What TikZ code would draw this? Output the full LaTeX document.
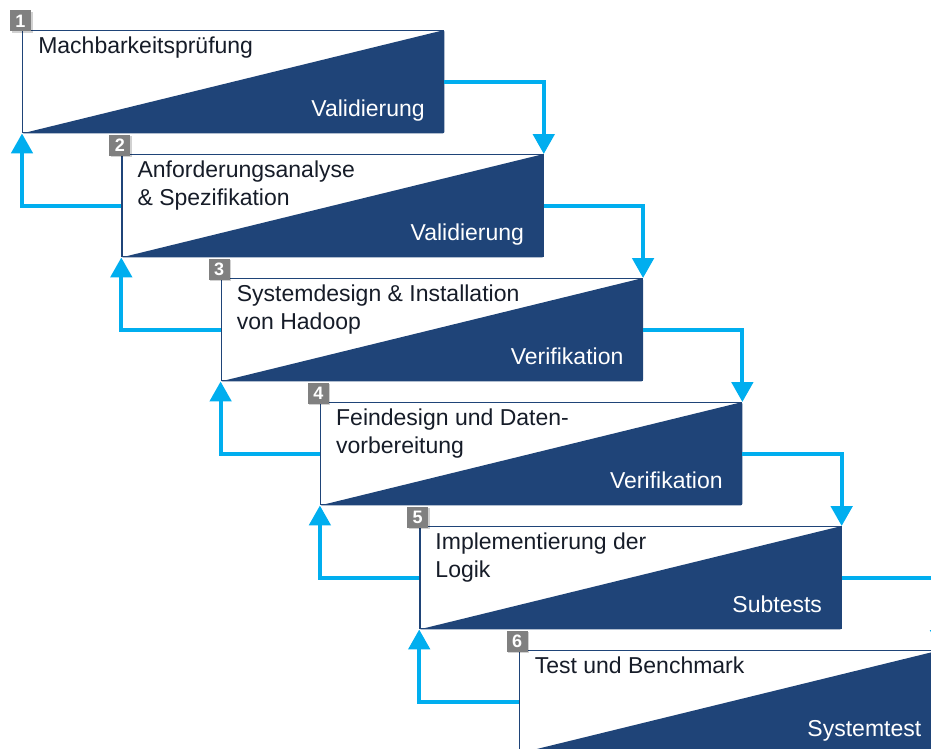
\documentclass[tikz,border=0pt]{standalone}
\usepackage{fontspec}
\setmainfont{Liberation Sans}
\usetikzlibrary{arrows.meta}
\definecolor{navy}{RGB}{31,68,120}
\definecolor{flow}{RGB}{0,174,239}
\definecolor{badgegray}{RGB}{128,128,128}
\definecolor{titletext}{RGB}{22,28,40}
\tikzset{
  phase/.style={draw=navy, line width=1.1pt, fill=white, minimum width=315.75pt, minimum height=76.5pt,
    inner sep=0pt, anchor=north west},
  wedge/.style={fill=navy, rounded corners=1.5pt},
  title/.style={anchor=north west, inner sep=0pt, align=left, text=titletext,
    font=\fontsize{17.25pt}{21pt}\selectfont},
  check/.style={anchor=base east, inner sep=0pt, text=white,
    font=\fontsize{17.25pt}{21pt}\selectfont},
  badge/.style={fill=badgegray, minimum size=15.75pt, inner sep=0pt, text=white,
    font=\fontsize{13.5pt}{14pt}\selectfont\bfseries},
  badgeshadow/.style={fill=black, opacity=0.18},
  fwd/.style={draw=flow, line width=3pt, -{Triangle[length=15pt, width=16pt]}},
  back/.style={draw=flow, line width=3pt, -{Triangle[length=15pt, width=16pt]}},
}
\begin{document}
\begin{tikzpicture}[x=0.75pt, y=-0.75pt]
\useasboundingbox (0,0) rectangle (931,749);
\clip (0,0) rectangle (931,749);

% phase boxes, stepped down to the right (coordinates in pixels, y downwards)
\foreach \i/\t/\c [count=\k from 0] in {
  1/{Machbarkeitsprüfung}/{Validierung},
  2/{Anforderungsanalyse\\\& Spezifikation}/{Validierung},
  3/{Systemdesign \& Installation\\von Hadoop}/{Verifikation},
  4/{Feindesign und Daten-\\vorbereitung}/{Verifikation},
  5/{Implementierung der\\Logik}/{Subtests},
  6/{Test und Benchmark}/{Systemtest}} {
  \pgfmathsetmacro\L{22+99.3*\k}
  \pgfmathsetmacro\T{30+124*\k}
  \pgfmathsetmacro\R{\L+421}
  \pgfmathsetmacro\B{\T+102}
  \node[phase] (b\i) at (\L,\T) {};
  \fill[wedge] (b\i.south west) -- (b\i.north east) -- (b\i.south east) -- cycle;
  \node[title] (t\i) at (\L+16,\T+7) {\t};
  \node[check] (c\i) at (\R-18,\B-16) {\c};
  \fill[badgeshadow] (\L-10.5,\T-18) rectangle (\L+10.5,\T+3);
  \node[badge] (n\i) at (\L-1.5,\T-9) {\i};
}

% forward flow: each phase hands over to the next
\foreach \a/\b in {1/2, 2/3, 3/4, 4/5, 5/6}
  \draw[fwd] (b\a.east) -| (b\b.north east);

% feedback: each phase reports back to the previous one
\foreach \a/\b in {2/1, 3/2, 4/3, 5/4, 6/5}
  \draw[back] (b\a.west) -| (b\b.south west);
\end{tikzpicture}
\end{document}
